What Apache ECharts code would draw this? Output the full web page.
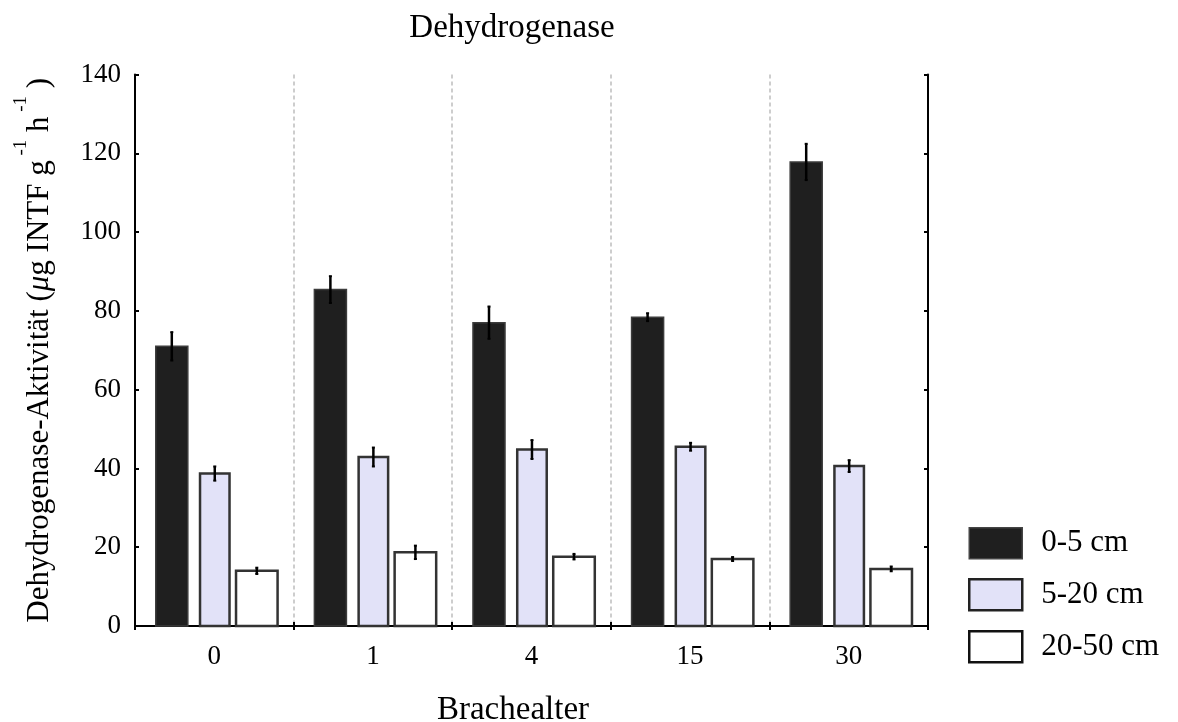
<!DOCTYPE html>
<html>
<head>
<meta charset="utf-8">
<script src="https://cdn.jsdelivr.net/npm/echarts@6/dist/echarts.min.js"></script>
<style>
  html, body { margin: 0; padding: 0; background: #fff; }
  #chart { width: 1178px; height: 722px; }
</style>
</head>
<body>
<div id="chart"></div>
<script>
// Fallow age (years) on the category axis
const categories = ['0', '1', '4', '15', '30'];

// Dehydrogenase activity (µg INTF g^-1 h^-1), mean and standard error per soil depth
const depth0to5 = [71.0, 85.4, 77.0, 78.4, 117.8];
const err0to5 = [3.6, 3.4, 4.1, 1.0, 4.6];
const depth5to20 = [38.7, 42.9, 44.8, 45.5, 40.6];
const err5to20 = [1.8, 2.4, 2.4, 1.0, 1.5];
const depth20to50 = [14.0, 18.7, 17.6, 17.0, 14.5];
const err20to50 = [0.8, 1.7, 0.7, 0.5, 0.6];

const seriesNames = ['0-5 cm', '5-20 cm', '20-50 cm'];
const yTicks = [0, 20, 40, 60, 80, 100, 120, 140];

const FONT = "'Liberation Serif', 'Times New Roman', serif";

// Bar placement inside each category band (fraction of band width)
const BAR_OFFSET = [-0.268, 0.003, 0.268];
const BAR_WIDTH = [0.202, 0.186, 0.262];
const BAR_STYLE = [
  { fill: '#1f1f1f', stroke: '#3c3c3c', lineWidth: 1.5 },
  { fill: '#e2e2f8', stroke: '#333333', lineWidth: 2.5 },
  { fill: '#ffffff', stroke: '#333333', lineWidth: 2.5 }
];

function toRows(values, errors) {
  return values.map(function (v, i) { return [i, v, errors[i]]; });
}

function makeRenderer(idx) {
  return function (params, api) {
    const xi = api.value(0);
    const v = api.value(1);
    const e = api.value(2);
    const base = api.coord([xi, 0]);
    const top = api.coord([xi, v]);
    const band = api.size([1, 0])[0];
    const cx = base[0] + band * BAR_OFFSET[idx];
    const w = band * BAR_WIDTH[idx];
    const hi = api.coord([xi, v + e])[1];
    const lo = api.coord([xi, v - e])[1];
    const st = BAR_STYLE[idx];
    return {
      type: 'group',
      children: [
        {
          type: 'rect',
          shape: { x: cx - w / 2, y: top[1], width: w, height: base[1] - top[1] },
          style: { fill: st.fill, stroke: st.stroke, lineWidth: st.lineWidth }
        },
        {
          type: 'line',
          shape: { x1: cx, y1: hi, x2: cx, y2: lo },
          style: { stroke: '#000', lineWidth: 2.5 }
        },
        {
          type: 'line',
          shape: { x1: cx - 1.5, y1: hi, x2: cx + 1.5, y2: hi },
          style: { stroke: '#000', lineWidth: 2 }
        },
        {
          type: 'line',
          shape: { x1: cx - 1.5, y1: lo, x2: cx + 1.5, y2: lo },
          style: { stroke: '#000', lineWidth: 2 }
        }
      ]
    };
  };
}

const seriesData = [
  toRows(depth0to5, err0to5),
  toRows(depth5to20, err5to20),
  toRows(depth20to50, err20to50)
];

const chart = echarts.init(document.getElementById('chart'), null, { renderer: 'canvas' });

const axisLineStyle = { color: '#000', width: 2 };

const option = {
  animation: false,
  backgroundColor: '#fff',
  textStyle: { fontFamily: FONT },
  title: [
    {
      text: 'Dehydrogenase',
      left: 507,
      top: 7,
      textAlign: 'center',
      textStyle: { fontFamily: FONT, fontSize: 33, fontWeight: 'normal', color: '#000' }
    },
    {
      text: 'Brachealter',
      left: 508,
      top: 689,
      textAlign: 'center',
      textStyle: { fontFamily: FONT, fontSize: 33, fontWeight: 'normal', color: '#000' }
    }
  ],
  legend: {
    orient: 'vertical',
    left: 968,
    top: 527,
    padding: 0,
    itemWidth: 53,
    itemHeight: 31,
    itemGap: 18.5,
    icon: 'rect',
    textStyle: { fontFamily: FONT, fontSize: 31, color: '#000', padding: [10, 0, 0, 14] },
    data: [
      { name: seriesNames[0], itemStyle: { color: '#1f1f1f', borderColor: '#444', borderWidth: 1.5 } },
      { name: seriesNames[1], itemStyle: { color: '#e2e2f8', borderColor: '#222', borderWidth: 2.5 } },
      { name: seriesNames[2], itemStyle: { color: '#ffffff', borderColor: '#111', borderWidth: 2.5 } }
    ]
  },
  grid: { left: 135, right: 250, top: 74.5, bottom: 96, containLabel: false },
  xAxis: [
    {
      type: 'category',
      data: categories,
      position: 'bottom',
      boundaryGap: true,
      axisLine: { show: true, lineStyle: axisLineStyle },
      axisTick: { show: true, inside: true, length: 4, lineStyle: { color: '#000', width: 2 } },
      axisLabel: { margin: 17, fontFamily: FONT, fontSize: 27, color: '#000' },
      splitLine: { show: true, lineStyle: { color: '#bdbdbd', width: 1.5, type: [4, 3] } }
    },
    {
      type: 'category',
      data: categories,
      position: 'top',
      boundaryGap: true,
      axisLine: { show: true, lineStyle: axisLineStyle },
      axisTick: { show: true, inside: true, length: 4, lineStyle: { color: '#000', width: 2 } },
      axisLabel: { show: false },
      splitLine: { show: false }
    }
  ],
  yAxis: [
    {
      type: 'value',
      position: 'left',
      min: yTicks[0],
      max: yTicks[yTicks.length - 1],
      interval: 20,
      axisLine: { show: true, lineStyle: axisLineStyle },
      axisTick: { show: true, inside: true, length: 4, lineStyle: { color: '#000', width: 2 } },
      axisLabel: { margin: 14, fontFamily: FONT, fontSize: 27, color: '#000' },
      splitLine: { show: false },
      name: '{a|Dehydrogenase-Aktivität (}{mu|μ}{a|g INTF g}{sup| -1}{a| h}{sup| -1}{a| )}',
      nameLocation: 'middle',
      nameRotate: 90,
      nameGap: 80,
      nameTextStyle: {
        fontFamily: FONT,
        fontSize: 31,
        color: '#000',
        rich: {
          a: { fontFamily: FONT, fontSize: 31, color: '#000', lineHeight: 43, verticalAlign: 'bottom' },
          mu: { fontFamily: FONT, fontSize: 31, fontStyle: 'italic', color: '#000', lineHeight: 43, verticalAlign: 'bottom' },
          sup: { fontFamily: FONT, fontSize: 19, color: '#000', lineHeight: 19, verticalAlign: 'top' }
        }
      }
    },
    {
      type: 'value',
      position: 'right',
      min: yTicks[0],
      max: yTicks[yTicks.length - 1],
      interval: 20,
      axisLine: { show: true, lineStyle: axisLineStyle },
      axisTick: { show: true, inside: true, length: 4, lineStyle: { color: '#000', width: 2 } },
      axisLabel: { show: false },
      splitLine: { show: false }
    }
  ],
  series: seriesNames.map(function (name, idx) {
    return {
      name: name,
      type: 'custom',
      xAxisIndex: 0,
      yAxisIndex: 0,
      encode: { x: 0, y: 1 },
      itemStyle: { color: BAR_STYLE[idx].fill, borderColor: BAR_STYLE[idx].stroke },
      renderItem: makeRenderer(idx),
      data: seriesData[idx],
      z: 3
    };
  })
};

chart.setOption(option);
</script>
</body>
</html>
